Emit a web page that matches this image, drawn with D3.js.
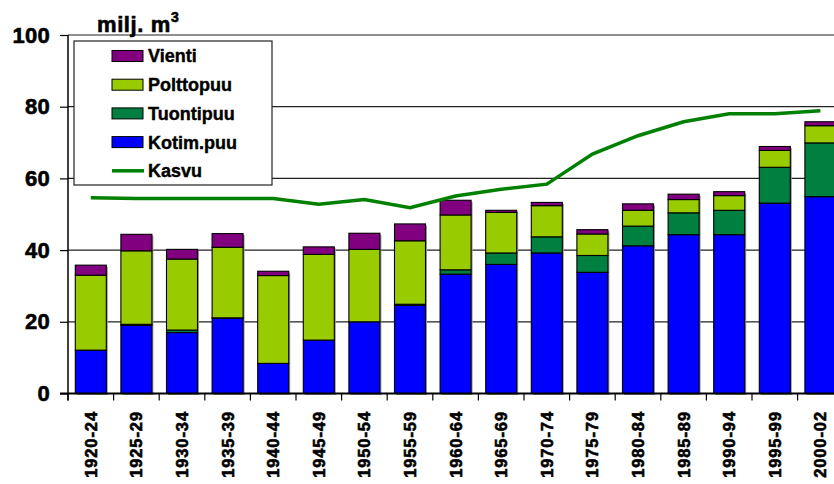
<!DOCTYPE html>
<html>
<head>
<meta charset="utf-8">
<script src="https://cdn.jsdelivr.net/npm/d3@7"></script>
<style>
  body { margin:0; background:#fff; }
  svg text { font-family: "Liberation Sans", Arial, sans-serif; font-weight:bold; fill:#000; stroke:#000; stroke-width:0.6px; }
</style>
</head>
<body>
<svg></svg>
<script>
//data (milj. m3)
var periods = ["1920-24","1925-29","1930-34","1935-39","1940-44","1945-49","1950-54","1955-59",
               "1960-64","1965-69","1970-74","1975-79","1980-84","1985-89","1990-94","1995-99","2000-02"]
var kotim   = [12.1, 19.0, 17.0, 21.0, 8.4, 14.9, 20.0, 24.6, 33.3, 36.0, 39.2, 33.8, 41.2, 44.3, 44.3, 53.1, 54.9]
var tuonti  = [0, 0.3, 0.7, 0.1, 0, 0, 0, 0.3, 1.2, 3.2, 4.5, 4.7, 5.5, 6.1, 6.8, 10.0, 15.0]
var poltto  = [20.9, 20.5, 19.8, 19.7, 24.5, 23.9, 20.2, 17.7, 15.3, 11.3, 8.7, 6.0, 4.4, 3.7, 4.1, 4.7, 4.8]
var vienti  = [2.8, 4.6, 2.7, 3.8, 1.2, 2.1, 4.5, 4.7, 4.1, 0.6, 0.9, 1.2, 1.8, 1.5, 1.1, 1.1, 1.1]
var kasvu   = [54.6, 54.4, 54.4, 54.4, 54.4, 52.8, 54.1, 51.8, 55.1, 57.0, 58.4, 66.8, 71.9, 75.8, 78.0, 78.0, 78.9]
var yTicks  = [0, 20, 40, 60, 80, 100]

var series = [
  {key:"Kotim.puu", values:kotim, color:"#0000ff"},
  {key:"Tuontipuu", values:tuonti, color:"#008040"},
  {key:"Polttopuu", values:poltto, color:"#99cc00"},
  {key:"Vienti", values:vienti, color:"#800080"}
]

var screen = {width:834, height:484}
var plot = {left:68, right:843.2, top:35, bottom:393.5}

var svg = d3.select("svg")
  .attr("width", screen.width)
  .attr("height", screen.height)

var xScale = d3.scaleBand()
  .domain(periods)
  .range([plot.left, plot.right])
  .paddingInner(0.32)
  .paddingOuter(0.16)
var step = xScale.step()

var yScale = d3.scaleLinear()
  .domain([0,100])
  .range([plot.bottom, plot.top])

//gridlines
svg.append("g")
  .selectAll("line")
  .data(yTicks.slice(1))
  .enter().append("line")
  .attr("x1", plot.left).attr("x2", screen.width)
  .attr("y1", d => yScale(d)).attr("y2", d => yScale(d))
  .attr("stroke", "#222").attr("stroke-width", 1.2)

//stacked bars
var rows = periods.map(function(p, i){
  var r = {period:p}
  series.forEach(s => r[s.key] = s.values[i])
  return r
})
var stack = d3.stack().keys(series.map(s => s.key))(rows)

//soft grey shadow behind each bar
svg.append("g")
  .selectAll("rect")
  .data(stack[stack.length - 1])
  .enter().append("rect")
  .attr("x", d => xScale(d.data.period) + 1.5)
  .attr("width", xScale.bandwidth())
  .attr("y", d => yScale(d[1]) + 1.5)
  .attr("height", d => yScale(0) - yScale(d[1]))
  .attr("fill", "#999")

svg.append("g")
  .selectAll("g")
  .data(stack)
  .enter().append("g")
  .attr("fill", (d,i) => series[i].color)
  .selectAll("rect")
  .data(d => d.filter(v => v[1] - v[0] > 0))
  .enter().append("rect")
  .attr("x", d => xScale(d.data.period))
  .attr("width", xScale.bandwidth())
  .attr("y", d => yScale(d[1]))
  .attr("height", d => yScale(d[0]) - yScale(d[1]))
  .attr("stroke", "#000").attr("stroke-width", 1.1)

//Kasvu line
var line = d3.line()
  .x((d,i) => xScale(periods[i]) + xScale.bandwidth()/2)
  .y(d => yScale(d))
svg.append("path")
  .datum(kasvu)
  .attr("d", line)
  .attr("fill", "none")
  .attr("stroke", "#008000")
  .attr("stroke-width", 3.5)

//y axis
var yAxis = d3.axisLeft(yScale).tickValues(yTicks).tickSize(8).tickPadding(10)
var yg = svg.append("g")
  .attr("transform", "translate(" + plot.left + ",0)")
  .call(yAxis)
yg.select(".domain").attr("stroke", "#000").attr("stroke-width", 1.5)
  .attr("d", "M0," + plot.top + "V" + (plot.bottom + 7))
yg.selectAll(".tick line").attr("stroke", "#000").attr("stroke-width", 1.2)
yg.selectAll("text").style("font-size", "22px").style("letter-spacing", "0.3px")

//x axis line and boundary ticks
svg.append("line")
  .attr("x1", plot.left - 8).attr("x2", screen.width)
  .attr("y1", plot.bottom).attr("y2", plot.bottom)
  .attr("stroke", "#000").attr("stroke-width", 1.8)
svg.append("g")
  .selectAll("line")
  .data(periods)
  .enter().append("line")
  .attr("x1", d => xScale(d) - step * 0.16).attr("x2", d => xScale(d) - step * 0.16)
  .attr("y1", plot.bottom).attr("y2", plot.bottom + 7)
  .attr("stroke", "#000").attr("stroke-width", 1.2)

//x labels
svg.append("g")
  .selectAll("text")
  .data(periods)
  .enter().append("text")
  .attr("transform", d => "translate(" + (xScale(d) + xScale.bandwidth()/2) + ",411) rotate(-90)")
  .attr("dy", "0.36em")
  .attr("text-anchor", "end")
  .style("font-size", "16.5px")
  .style("letter-spacing", "0.9px")
  .style("stroke-width", "0.6px")
  .text(d => d)

//unit title
var title = svg.append("text")
  .attr("x", 97).attr("y", 32)
  .style("font-size", "22px")
  .style("letter-spacing", "0.6px")
title.append("tspan").text("milj. m")
title.append("tspan").attr("dy", -10).style("font-size", "14px").text("3")

//legend
var legend = svg.append("g")
legend.append("rect")
  .attr("x", 74).attr("y", 41).attr("width", 198).attr("height", 144)
  .attr("fill", "#fff").attr("stroke", "#222").attr("stroke-width", 1.2)

var legendItems = series.slice().reverse().concat([{key:"Kasvu", color:"#008000", line:true}])
var li = legend.selectAll("g.item")
  .data(legendItems)
  .enter().append("g")
  .attr("class", "item")
  .attr("transform", (d,i) => "translate(112," + (56 + i * 28.7) + ")")
li.filter(d => !d.line).append("rect")
  .attr("x", 0).attr("y", -5.5).attr("width", 31).attr("height", 11)
  .attr("fill", d => d.color).attr("stroke", "#000").attr("stroke-width", 1)
li.filter(d => d.line).append("line")
  .attr("x1", 0).attr("x2", 32).attr("y1", 0).attr("y2", 0)
  .attr("stroke", d => d.color).attr("stroke-width", 3.5)
li.append("text")
  .attr("x", 36).attr("dy", "0.36em")
  .style("font-size", "18px")
  .style("stroke-width", "0.4px")
  .text(d => d.key)
</script>
</body>
</html>
